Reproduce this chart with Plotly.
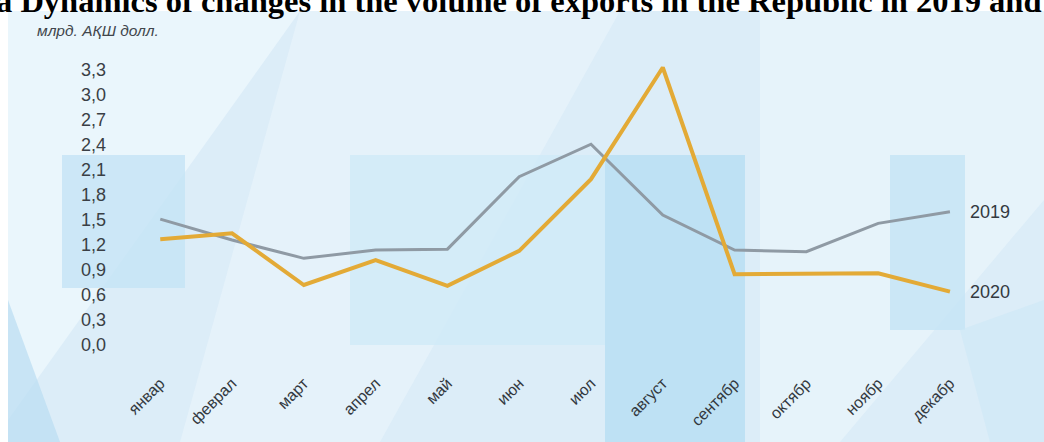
import plotly.graph_objects as go

months = ["январ", "феврал", "март", "апрел", "май", "июн",
          "июл", "август", "сентябр", "октябр", "ноябр", "декабр"]
exports_2019 = [1.51, 1.26, 1.04, 1.14, 1.15, 2.02, 2.41, 1.56, 1.14, 1.12, 1.46, 1.60]
exports_2020 = [1.27, 1.34, 0.72, 1.02, 0.71, 1.13, 1.99, 3.33, 0.85, 0.85, 0.86, 0.64]
y_ticks = [0.0, 0.3, 0.6, 0.9, 1.2, 1.5, 1.8, 2.1, 2.4, 2.7, 3.0, 3.3]
y_ticktext = [f"{v:.1f}".replace(".", ",") for v in y_ticks]
series_labels = ["2019", "2020"]
unit_label = "млрд. АҚШ долл."
title_text = "a Dynamics of changes in the volume of exports in the Republic in 2019 and 2020"

W, H = 1044, 442
L, R, T, B = 110, 0, 40, 72
pw, ph = W - L - R, H - T - B

def px(x):
    return (x - L) / pw

def py(y):
    return (H - B - y) / ph

x_idx = list(range(len(months)))

fig = go.Figure()
fig.add_trace(go.Scatter(x=x_idx, y=exports_2019, mode="lines",
                         line=dict(color="#8f9aa4", width=3), name="2019",
                         hoverinfo="skip"))
fig.add_trace(go.Scatter(x=x_idx, y=exports_2020, mode="lines",
                         line=dict(color="#e3aa36", width=4), name="2020",
                         hoverinfo="skip"))

shapes = []
def rect(x0, y0, x1, y1, color, op=1.0):
    shapes.append(dict(type="rect", xref="paper", yref="paper",
                       x0=px(x0), x1=px(x1), y0=py(y1), y1=py(y0),
                       fillcolor=color, opacity=op, line=dict(width=0), layer="below"))

def poly(points, color, op=1.0):
    path = "M " + " L ".join(f"{px(a)},{py(b)}" for a, b in points) + " Z"
    shapes.append(dict(type="path", xref="paper", yref="paper", path=path,
                       fillcolor=color, opacity=op, line=dict(width=0), layer="below"))

# background image approximation
rect(8, 11, W, H, "#dcedf8")
poly([(8, 11), (300, 11), (8, 420)], "#eef7fc", 0.8)
poly([(300, 11), (620, 11), (380, 442), (180, 442)], "#e8f4fb", 0.7)
poly([(760, 11), (1044, 11), (1044, 200), (840, 442), (760, 442)], "#eaf5fb", 0.7)
rect(62, 155, 185, 288, "#c4e3f5", 0.8)
rect(350, 155, 605, 345, "#d0eaf7", 0.8)
rect(605, 155, 745, 442, "#b8def3", 0.85)
rect(890, 155, 965, 330, "#c4e3f5", 0.8)
poly([(8, 300), (60, 442), (8, 442)], "#b9ddf2", 0.7)
poly([(960, 330), (1044, 300), (1044, 442), (990, 442)], "#cfe8f6", 0.7)

label_font = dict(size=18, color="#33393f", family="Liberation Sans, Arial")
annotations = [
    dict(text=series_labels[0], x=11, y=exports_2019[-1], xref="x", yref="y",
         xanchor="left", yanchor="middle", xshift=18, showarrow=False, font=label_font),
    dict(text=series_labels[1], x=11, y=exports_2020[-1], xref="x", yref="y",
         xanchor="left", yanchor="middle", xshift=18, showarrow=False, font=label_font),
    dict(text=f"<i>{unit_label}</i>", x=px(35), y=py(30), xref="paper", yref="paper",
         xanchor="left", yanchor="middle", showarrow=False,
         font=dict(size=15.5, color="#41464c", family="Liberation Sans, Arial")),
    dict(text=f"<b>{title_text}</b>", x=px(-6), y=py(1), xref="paper", yref="paper",
         xanchor="left", yanchor="middle", showarrow=False,
         font=dict(size=32.5, color="#000000", family="Liberation Serif, Times New Roman")),
]

fig.update_layout(
    width=W, height=H,
    margin=dict(l=L, r=R, t=T, b=B, pad=0),
    paper_bgcolor="white",
    plot_bgcolor="rgba(0,0,0,0)",
    showlegend=False,
    shapes=shapes,
    annotations=annotations,
    xaxis=dict(range=[-0.70, 12.31], tickvals=x_idx, ticktext=months,
               tickangle=-45, showgrid=False, zeroline=False, showline=False,
               ticks="", tickfont=dict(size=16, color="#33393f",
                                      family="Liberation Sans, Arial")),
    yaxis=dict(range=[-0.30, 3.66], tickvals=y_ticks, ticktext=y_ticktext,
               showgrid=False, zeroline=False, showline=False, ticks="",
               ticklabelstandoff=3,
               tickfont=dict(size=18, color="#3a3f45",
                             family="Liberation Sans, Arial")),
)

fig.write_html("out.html")
